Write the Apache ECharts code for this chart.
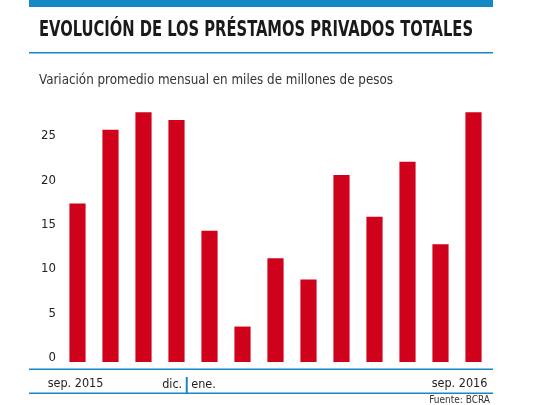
<!DOCTYPE html>
<html>
<head>
<meta charset="utf-8">
<script src="https://cdn.jsdelivr.net/npm/echarts@6/dist/echarts.min.js"></script>
<style>html,body{margin:0;padding:0;background:#fff}#c{width:540px;height:405px}</style>
</head>
<body>
<div id="c"></div>
<script>
var categories = ['sep. 2015','oct. 2015','nov. 2015','dic. 2015','ene. 2016','feb. 2016','mar. 2016','abr. 2016','may. 2016','jun. 2016','jul. 2016','ago. 2016','sep. 2016'];
var values = [17.9, 26.2, 28.2, 27.3, 14.8, 4.0, 11.7, 9.3, 21.1, 16.4, 22.6, 13.3, 28.2];
var yTicks = [0, 5, 10, 15, 20, 25];
var titleText = 'EVOLUCIÓN DE LOS PRÉSTAMOS PRIVADOS TOTALES';
var subtitleText = 'Variación promedio mensual en miles de millones de pesos';
var sourceText = 'Fuente: BCRA';

var BLUE = '#1588c6';
var RED = '#d0021b';
var NARROW = "'Liberation Sans Narrow','DejaVu Sans Condensed','Roboto',sans-serif";

function measure(text, font) {
  var cv = document.createElement('canvas').getContext('2d');
  cv.font = font;
  return cv.measureText(text).width;
}
var titleFont = "bold 21px " + NARROW;
var subFont = "14px " + NARROW;
var titleScale = 434 / measure(titleText, titleFont);
var subScale = 354 / measure(subtitleText, subFont);

var chart = echarts.init(document.getElementById('c'), null, {renderer: 'canvas'});
chart.setOption({
  animation: false,
  backgroundColor: '#fff',
  grid: {left: 61, right: 50, top: 96.2, bottom: 43, containLabel: false},
  xAxis: {
    type: 'category',
    data: categories,
    offset: 7,
    axisLine: {show: false},
    axisTick: {show: false},
    axisLabel: {
      interval: 0,
      margin: 8,
      color: '#222',
      fontFamily: NARROW,
      fontSize: 12.5,
      formatter: function (v, i) {
        if (i === 0) return '{l|sep. 2015}';
        if (i === 3) return '{m|dic. }{s|}{n| ene.}';
        if (i === 12) return '{r|sep. 2016}';
        return '';
      },
      rich: {
        l: {fontFamily: NARROW, fontSize: 12.5, color: '#222', padding: [0, 4, 0, 0]},
        m: {fontFamily: NARROW, fontSize: 12.5, color: '#222', padding: [0, 0, 0, 25]},
        n: {fontFamily: NARROW, fontSize: 12.5, color: '#222'},
        s: {width: 2, height: 16, backgroundColor: BLUE},
        r: {fontFamily: NARROW, fontSize: 12.5, color: '#222', padding: [0, 28, 0, 0]}
      }
    }
  },
  yAxis: {
    type: 'value',
    min: 0,
    max: 30,
    interval: 5,
    splitLine: {show: false},
    axisLine: {show: false},
    axisTick: {show: false},
    axisLabel: {
      showMaxLabel: false,
      margin: 5,
      color: '#222',
      fontFamily: NARROW,
      fontSize: 13,
      verticalAlign: 'bottom',
      lineHeight: 9,
      formatter: function (v) { return yTicks.indexOf(v) >= 0 ? String(v) : ''; }
    }
  },
  series: [{
    type: 'bar',
    data: values,
    barWidth: '49%',
    itemStyle: {color: RED}
  }],
  graphic: [
    {type: 'rect', shape: {x: 29, y: 0, width: 464, height: 7}, style: {fill: BLUE}},
    {type: 'text', x: 39, y: 31, scaleX: titleScale, style: {text: titleText, fill: '#1a1a1a', font: titleFont, textVerticalAlign: 'middle'}},
    {type: 'rect', shape: {x: 29, y: 52, width: 464, height: 1.6}, style: {fill: BLUE}},
    {type: 'text', x: 39, y: 80.5, scaleX: subScale, style: {text: subtitleText, fill: '#333', font: subFont, textVerticalAlign: 'middle'}},
    {type: 'rect', shape: {x: 29, y: 368.5, width: 464, height: 1.6}, style: {fill: BLUE}},
    {type: 'rect', shape: {x: 29, y: 392.5, width: 464, height: 1.6}, style: {fill: BLUE}},
    {type: 'text', x: 490, y: 400.5, style: {text: sourceText, fill: '#333', font: "10px " + NARROW, textAlign: 'right', textVerticalAlign: 'middle'}}
  ]
});
</script>
</body>
</html>
